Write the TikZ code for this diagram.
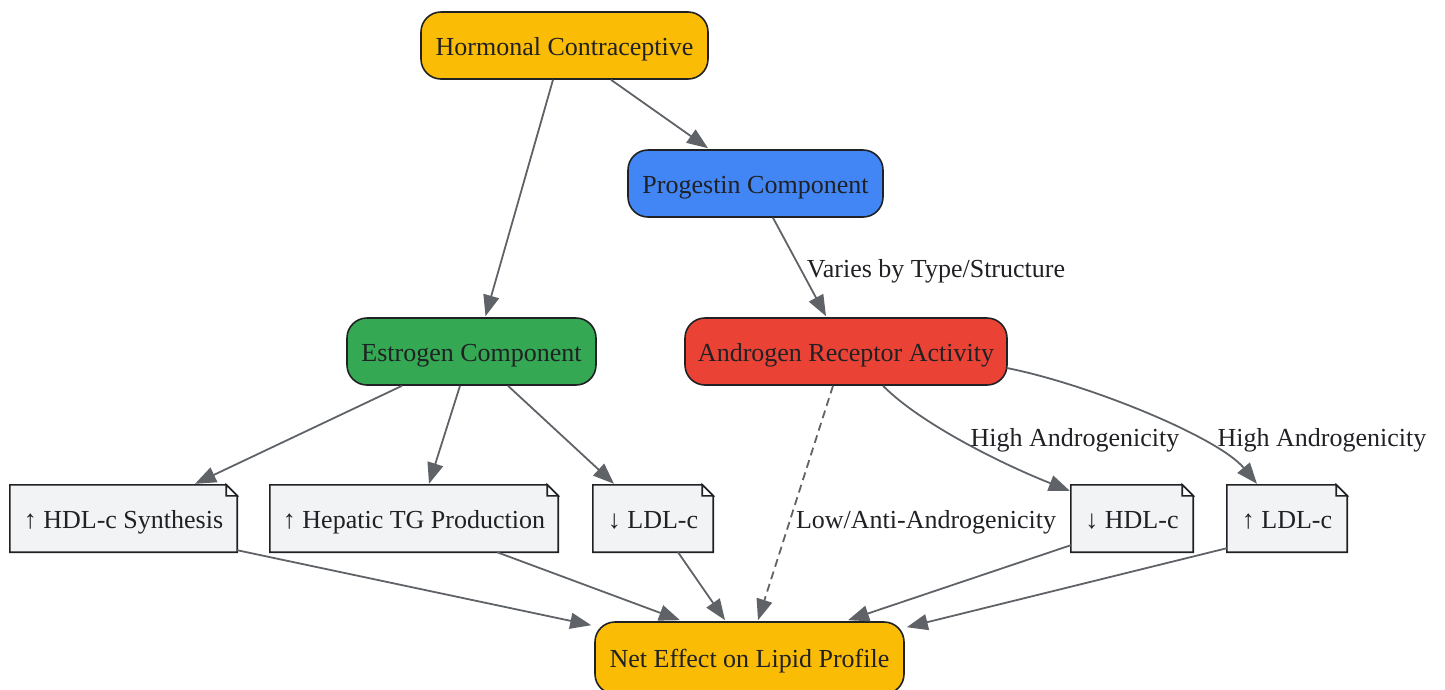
\documentclass[tikz,border=0pt]{standalone}
\usepackage{fontspec}
\setmainfont{Liberation Serif}
\usetikzlibrary{arrows.meta,calc,backgrounds}
\definecolor{gyellow}{HTML}{FBBC05}
\definecolor{gblue}{HTML}{4285F4}
\definecolor{ggreen}{HTML}{34A853}
\definecolor{gred}{HTML}{EA4335}
\definecolor{notefill}{HTML}{F1F3F4}
\definecolor{edgecol}{HTML}{5F6368}
\definecolor{inkcol}{HTML}{202124}
\tikzset{
  base/.style={inner sep=0pt, minimum height=67pt, text=inkcol, font=\fontsize{26}{30}\selectfont, text height=20pt, text depth=1pt},
  roundbox/.style={base, draw=inkcol, line width=1.6pt, rounded corners=20pt},
  notebox/.style={base},
  conn/.style={draw=edgecol, line width=1.8pt, -{Triangle[length=21pt,width=16pt]}},
  dconn/.style={conn, dash pattern=on 8pt off 5pt},
  elabel/.style={text=inkcol, font=\fontsize{26}{30}\selectfont, inner sep=1pt, text height=20pt, text depth=1pt},
  noteline/.style={draw=inkcol, line width=1.6pt, fill=notefill, line join=miter}
}
\begin{document}
\begin{tikzpicture}[x=1pt,y=-1pt]
\useasboundingbox (0,0) rectangle (1445,689);
% rounded nodes
\node[roundbox, fill=gyellow, minimum width=287pt] (hc) at (564.5,45.5) {Hormonal Contraceptive};
\node[roundbox, fill=gblue, minimum width=255pt] (prog) at (755.5,183.5) {Progestin Component};
\node[roundbox, fill=ggreen, minimum width=249pt] (est) at (471.5,351.5) {Estrogen Component};
\node[roundbox, fill=gred, minimum width=322pt] (andr) at (846,351.5) {Androgen Receptor Activity};
\node[roundbox, fill=gyellow, minimum width=309pt, minimum height=72pt] (net) at (749.5,658) {Net Effect on Lipid Profile};
% note nodes
\node[notebox, minimum width=227pt] (n1) at (123.5,518.5) {↑ HDL-c Synthesis};
\node[notebox, minimum width=288pt] (n2) at (414,518.5) {↑ Hepatic TG Production};
\node[notebox, minimum width=120pt] (n3) at (653,518.5) {↓ LDL-c};
\node[notebox, minimum width=122pt] (n4) at (1132,518.5) {↓ HDL-c};
\node[notebox, minimum width=120pt] (n5) at (1287,518.5) {↑ LDL-c};
\begin{pgfonlayer}{background}
\foreach \n in {n1,n2,n3,n4,n5}{
  \draw[noteline] (\n.north west) -- ($(\n.north east)+(-11,0)$) -- ($(\n.north east)+(0,11)$) -- (\n.south east) -- (\n.south west) -- cycle;
  \draw[draw=inkcol, line width=1.6pt, fill=white, line join=miter] ($(\n.north east)+(-11,0)$) -- ($(\n.north east)+(-11,11)$) -- ($(\n.north east)+(0,11)$) -- cycle;
}
\end{pgfonlayer}
% edges
\draw[conn] ($(hc.south)+(-11.5,0)$) -- ($(est.north)+(14,-1)$);
\draw[conn] ($(hc.south)+(46.5,0)$) -- ($(prog.north)+(-47.5,-1)$);
\draw[conn] ($(prog.south)+(17.5,0)$) -- ($(andr.north)+(-20,-1)$);
\draw[conn] ($(est.south)+(-69.5,0)$) -- ($(n1.north)+(71.5,-1)$);
\draw[conn] ($(est.south)+(-11.5,0)$) -- ($(n2.north)+(15,-1)$);
\draw[conn] ($(est.south)+(36.5,0)$) -- ($(n3.north)+(-39,-1)$);
\draw[dconn] ($(andr.south)+(-13,0)$) -- ($(net.north)+(8.5,-1)$);
\draw[conn] ($(andr.south)+(37,0)$) .. controls (923,426) and (1009,467) .. ($(n4.north west)+(-1,6)$);
\draw[conn] ($(andr.east)+(-1,16.5)$) .. controls (1088,384) and (1218,437) .. ($(n5.north)+(-30,-1)$);
\draw[conn] ($(n1.south east)+(0,-2)$) -- ($(net.north west)+(-3,4)$);
\draw[conn] ($(n2.south)+(83,0)$) -- ($(net.north)+(-69.5,-1)$);
\draw[conn] ($(n3.south)+(25,0)$) -- ($(net.north)+(-24.5,-1)$);
\draw[conn] ($(n4.south west)+(0,-7)$) -- ($(net.north)+(98.5,-1)$);
\draw[conn] ($(n5.south west)+(0,-4)$) -- ($(net.north east)+(2,6)$);
% edge labels
\node[elabel] (l1) at (936,268) {Varies by Type/Structure};
\node[elabel] (l2) at (926,519) {Low/Anti-Androgenicity};
\node[elabel] (l3) at (1075,437) {High Androgenicity};
\node[elabel] (l4) at (1322,437) {High Androgenicity};
\end{tikzpicture}
\end{document}
